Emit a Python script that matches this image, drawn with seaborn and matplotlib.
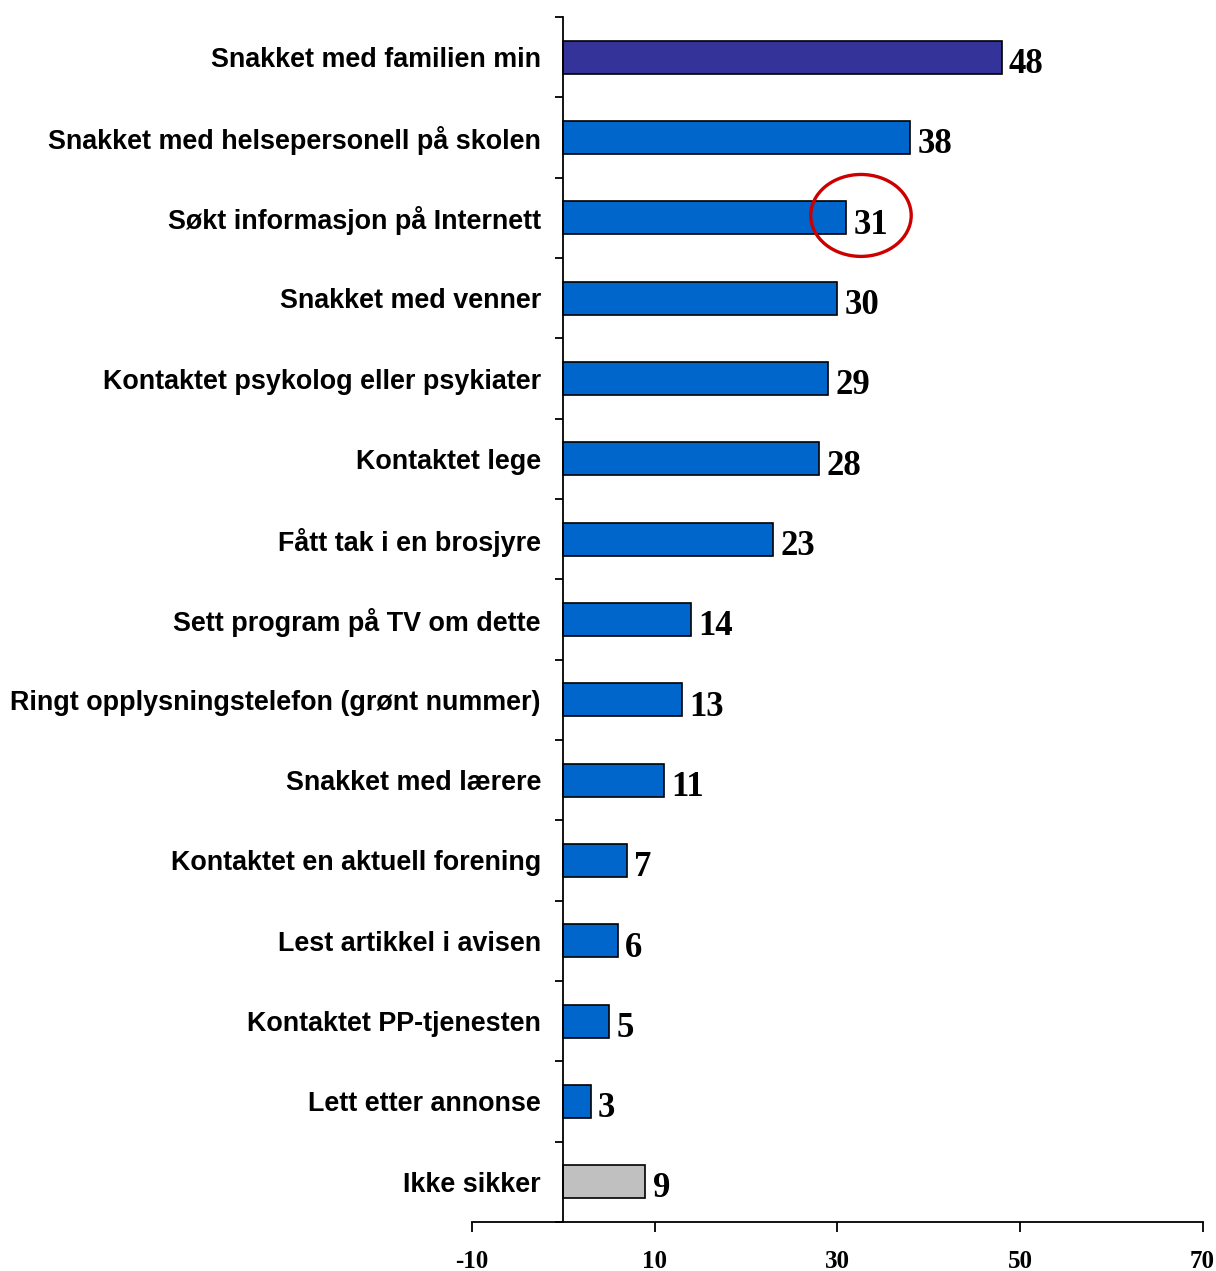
import matplotlib
matplotlib.use("Agg")
import matplotlib.pyplot as plt
import seaborn as sns
import pandas as pd
from matplotlib.patches import Ellipse
from matplotlib.ticker import FixedLocator

sns.set_theme(style="white")
plt.rcParams['font.family'] = ['Liberation Sans', 'DejaVu Sans']
for k in ["text.color", "xtick.color", "ytick.color", "axes.labelcolor", "axes.edgecolor"]:
    plt.rcParams[k] = "black"

categories = [
    "Snakket med familien min",
    "Snakket med helsepersonell på skolen",
    "Søkt informasjon på Internett",
    "Snakket med venner",
    "Kontaktet psykolog eller psykiater",
    "Kontaktet lege",
    "Fått tak i en brosjyre",
    "Sett program på TV om dette",
    "Ringt opplysningstelefon (grønt nummer)",
    "Snakket med lærere",
    "Kontaktet en aktuell forening",
    "Lest artikkel i avisen",
    "Kontaktet PP-tjenesten",
    "Lett etter annonse",
    "Ikke sikker",
]
values = [48, 38, 31, 30, 29, 28, 23, 14, 13, 11, 7, 6, 5, 3, 9]
bar_colors = ["#333399"] + ["#0066CC"] * 13 + ["#C0C0C0"]
x_ticks = [-10, 10, 30, 50, 70]
highlight = "Søkt informasjon på Internett"

df = pd.DataFrame({"cat": categories, "val": values})

fig = plt.figure(figsize=(12.16, 12.71), dpi=100)
ax = fig.add_axes([0.388, 0.0386, 0.601, 0.948])

sns.barplot(data=df, x="val", y="cat", hue="cat", palette=bar_colors,
            order=categories, hue_order=categories, legend=False,
            orient="h", width=0.41, edgecolor="black", linewidth=1.2,
            saturation=1, ax=ax)

ax.set_xlim(-10, 70)
ax.set_ylim(len(categories) - 0.5, -0.5)
ax.set_xlabel("")
ax.set_ylabel("")

for s in ["top", "right"]:
    ax.spines[s].set_visible(False)
ax.spines["left"].set_position(("data", 0))
for s in ["left", "bottom"]:
    ax.spines[s].set_color("black")
    ax.spines[s].set_linewidth(1.3)

ax.set_xticks(x_ticks)
ax.set_xticklabels([str(t) for t in x_ticks], fontfamily="Liberation Serif",
                   fontweight="bold", fontsize=18, color="black")
ax.tick_params(axis="x", which="major", direction="out", length=7, width=1.3,
               color="black", pad=13, bottom=True)

ax.set_yticks(range(len(categories)))
ax.set_yticklabels(categories, fontweight="bold", fontsize=19.4, color="black")
ax.tick_params(axis="y", which="major", length=0, pad=16, left=True)
ax.yaxis.set_minor_locator(FixedLocator([i - 0.5 for i in range(len(categories) + 1)]))
ax.tick_params(axis="y", which="minor", direction="out", length=6, width=1.3,
               color="black", left=True)

for i, v in enumerate(values):
    ax.text(v + 0.8, i + 0.04, str(v), ha="left", va="center_baseline",
            fontfamily="Liberation Serif", fontweight="bold", fontsize=25,
            color="black")

idx = categories.index(highlight)
ax.add_patch(Ellipse((values[idx] + 1.6, idx - 0.03), width=11, height=1.02,
                     fill=False, edgecolor="#CC0000", linewidth=2.4, zorder=5))

ax.grid(False)
fig.savefig("out.png", dpi=100)
